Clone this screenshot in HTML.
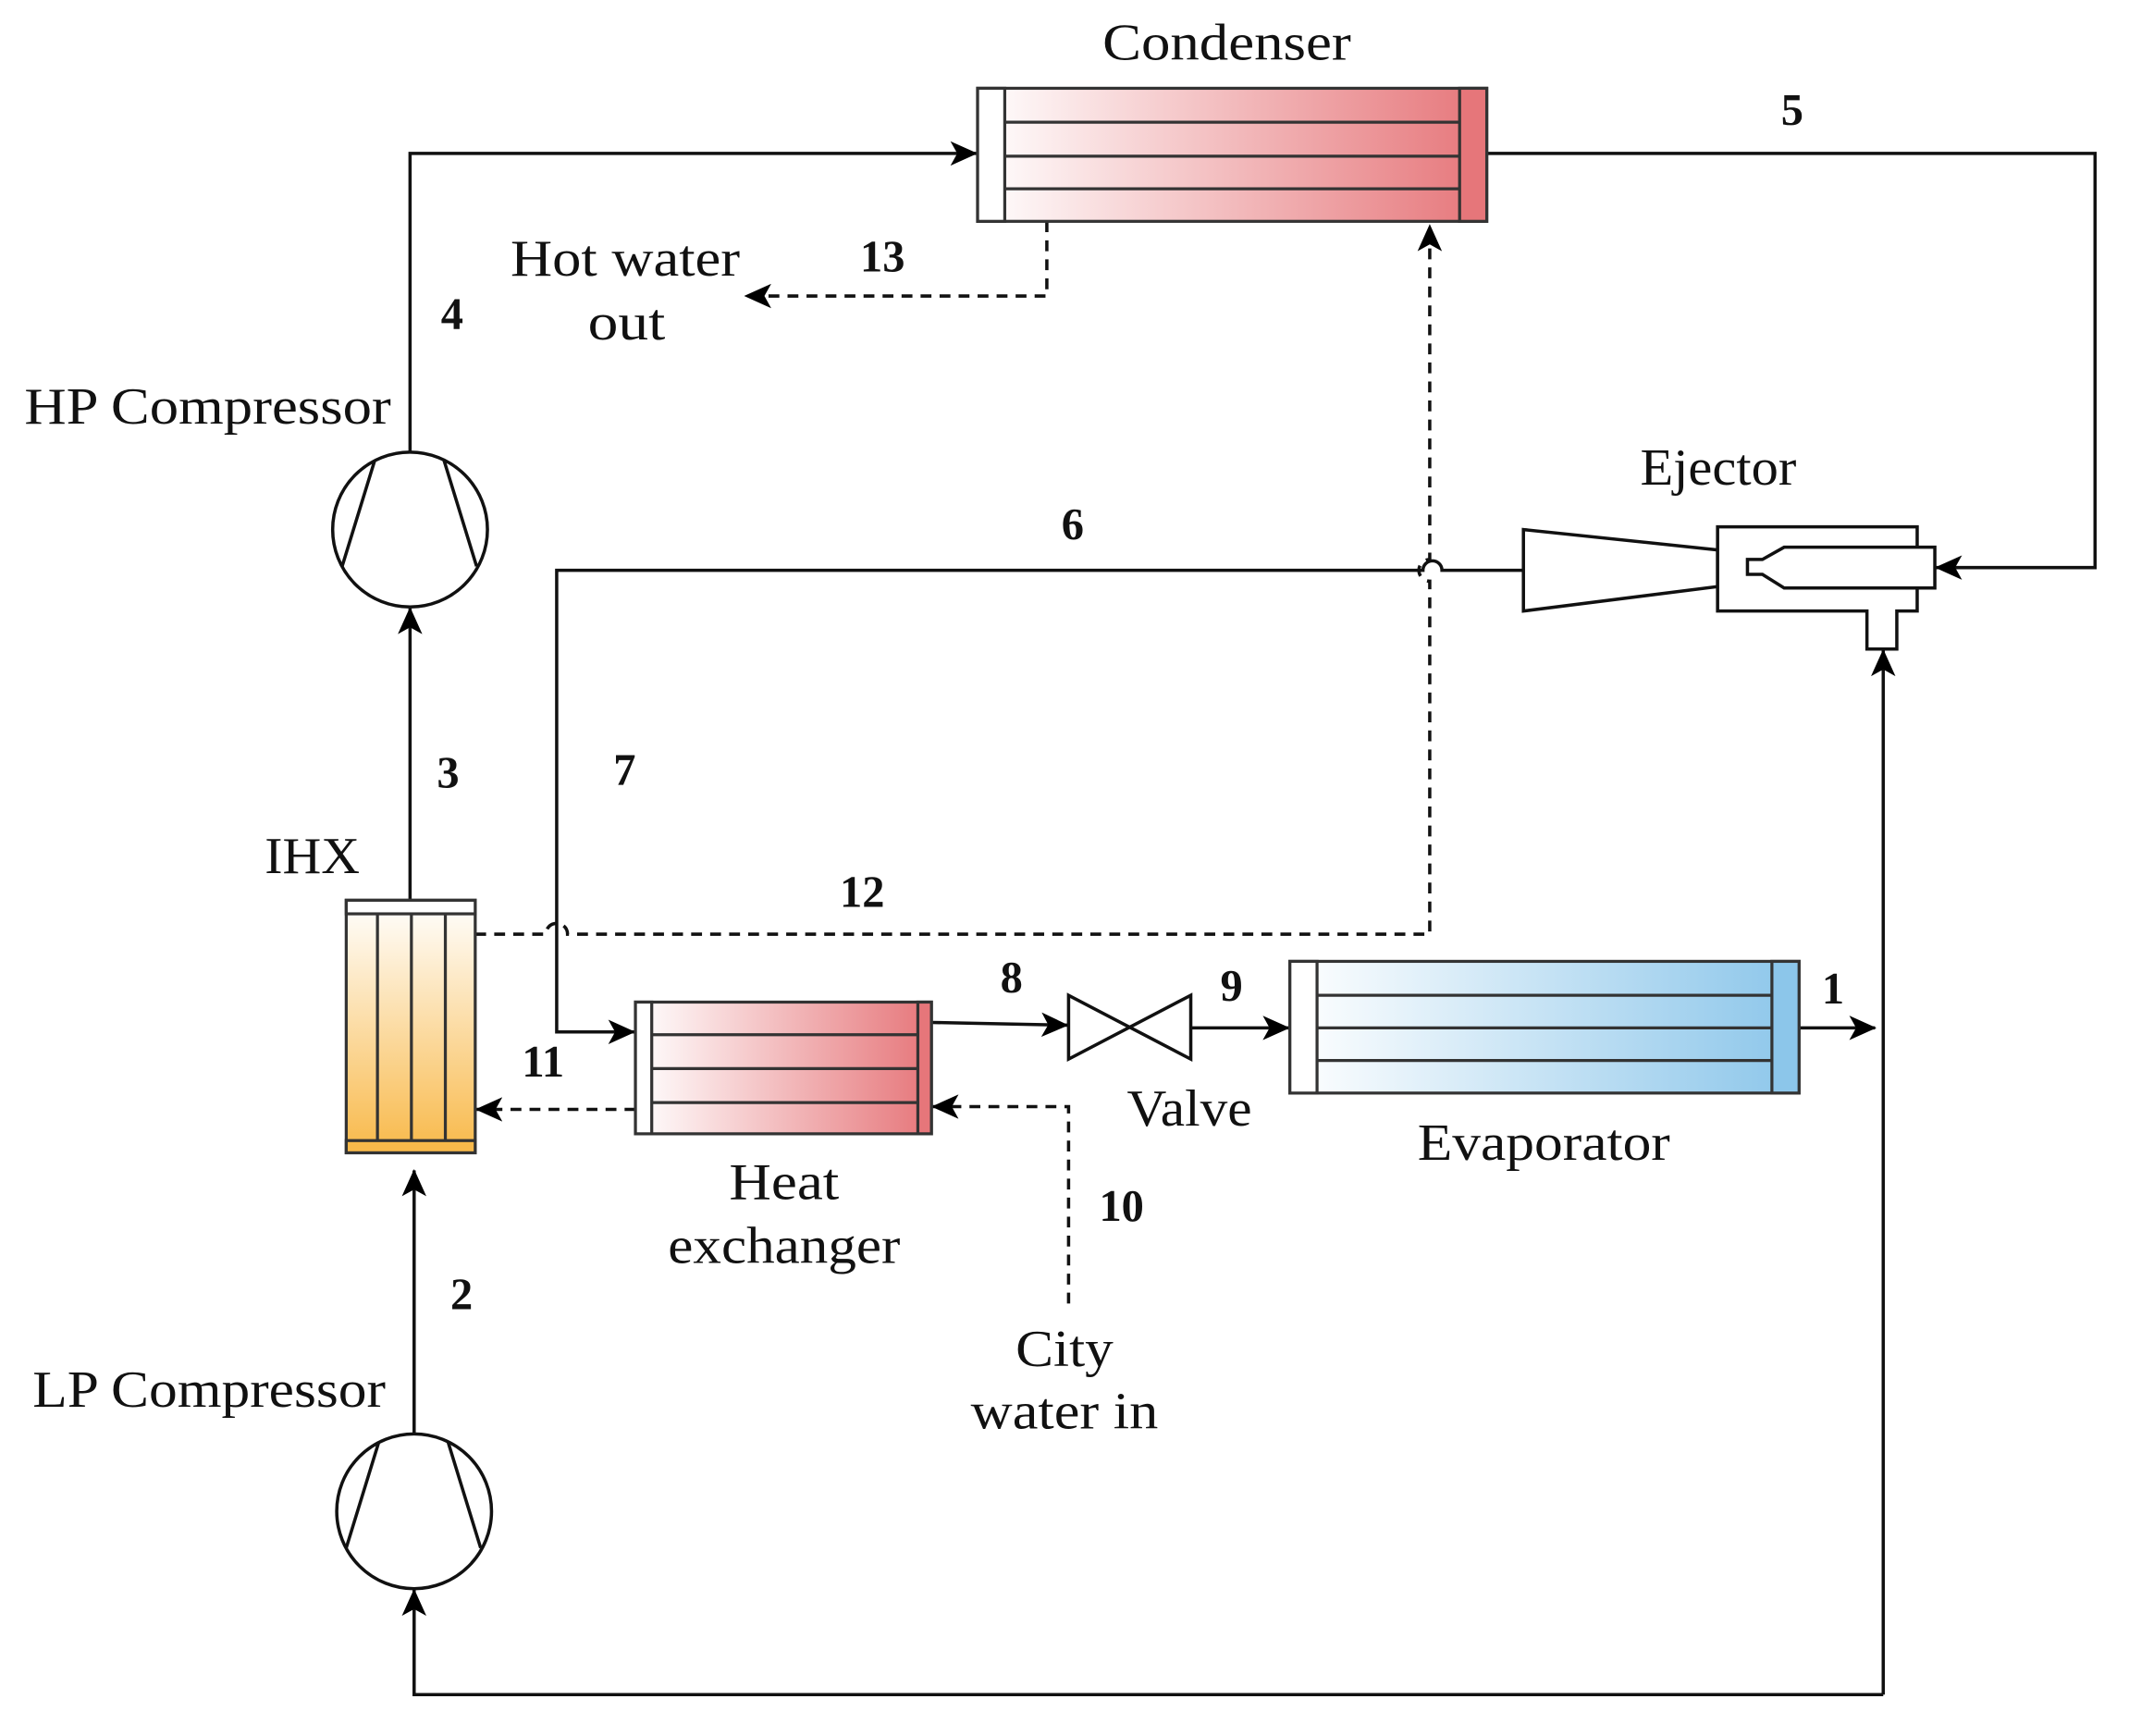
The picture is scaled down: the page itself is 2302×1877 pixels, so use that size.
<!DOCTYPE html>
<html><head><meta charset="utf-8"><style>
html,body{margin:0;padding:0;background:#fff}
svg{display:block}
text{font-family:"Liberation Serif","DejaVu Serif",serif;fill:#111}
.l{font-size:38px}
.n{font-size:33px;font-weight:bold}
</style></head><body>
<svg width="2302" height="1877" viewBox="0 0 1568 1278.5" xmlns="http://www.w3.org/2000/svg">
<defs>
<linearGradient id="red" x1="0" x2="1" y1="0" y2="0"><stop offset="0" stop-color="#fff"/><stop offset="1" stop-color="#e6767a"/></linearGradient>
<linearGradient id="blue" x1="0" x2="1" y1="0" y2="0"><stop offset="0" stop-color="#fff"/><stop offset="1" stop-color="#8cc6ea"/></linearGradient>
<linearGradient id="org" x1="0" x2="0" y1="0" y2="1"><stop offset="0" stop-color="#fff"/><stop offset="1" stop-color="#f8b94a"/></linearGradient>
<marker id="a" markerWidth="20" markerHeight="18" refX="19" refY="9" orient="auto" markerUnits="userSpaceOnUse" viewBox="0 0 20 18"><path d="M0,0 L20,9 L0,18 L5,9 Z" fill="#000"/></marker>
</defs>
<g fill="none" stroke="#111" stroke-width="2.4">
<path d="M302,333 V113 H719" marker-end="url(#a)"/>
<path d="M1095,113 H1543 V418 H1426" marker-end="url(#a)"/>
<path d="M1122,420 H1062 A7,7 0 0 0 1048,420 H410 V760 H467" marker-end="url(#a)"/>
<path d="M302,663 V448" marker-end="url(#a)"/>
<path d="M686,753 L786,755" marker-end="url(#a)"/>
<path d="M877,757 H949" marker-end="url(#a)"/>
<path d="M1325,757 H1381" marker-end="url(#a)"/>
<path d="M305,1057 V862" marker-end="url(#a)"/>
<path d="M1387,1248 H305 V1171" marker-end="url(#a)"/>
<path d="M1387,1248 V479" marker-end="url(#a)"/>
<g stroke-dasharray="8,6">
<path d="M771,163 V218 H549" marker-end="url(#a)"/>
<path d="M350,688 H402 A8,8 0 0 1 418,688 H1053 V428 A7,7 0 0 1 1053,412 V166" marker-end="url(#a)"/>
<path d="M468,817 H351" marker-end="url(#a)"/>
<path d="M787,960 V815 H687" marker-end="url(#a)"/>
</g>
</g>
<g stroke="#333" stroke-width="2.2">
<rect x="720" y="65" width="375" height="98" fill="url(#red)"/>
<rect x="720" y="65" width="20" height="98" fill="#fff"/>
<rect x="1075" y="65" width="20" height="98" fill="#e6767a"/>
<path d="M740,90 H1075 M740,115 H1075 M740,139 H1075"/>
</g>
<g stroke="#333" stroke-width="2.2">
<rect x="468" y="738" width="218" height="97" fill="url(#red)"/>
<rect x="468" y="738" width="12" height="97" fill="#fff"/>
<rect x="676" y="738" width="10" height="97" fill="#e6767a"/>
<path d="M480,762 H676 M480,787 H676 M480,812 H676"/>
</g>
<g stroke="#333" stroke-width="2.2">
<rect x="950" y="708" width="375" height="97" fill="url(#blue)"/>
<rect x="950" y="708" width="20" height="97" fill="#fff"/>
<rect x="1305" y="708" width="20" height="97" fill="#8cc6ea"/>
<path d="M970,733 H1305 M970,757 H1305 M970,781 H1305"/>
</g>
<g stroke="#333" stroke-width="2.2">
<rect x="255" y="663" width="95" height="186" fill="url(#org)"/>
<rect x="255" y="663" width="95" height="10" fill="#fff"/>
<rect x="255" y="840" width="95" height="9" fill="#f8b94a"/>
<path d="M278,673 V840 M303,673 V840 M328,673 V840"/>
</g>
<g fill="#fff" stroke="#111" stroke-width="2.4">
<circle cx="302" cy="390" r="57"/>
<path d="M276,339 L252,417 M327,339 L351,417" fill="none"/>
<circle cx="305" cy="1113" r="57"/>
<path d="M279,1062 L255,1140 M330,1062 L354,1140" fill="none"/>
</g>
<path d="M787,733 L877,780 L877,733 L787,780 Z" fill="#fff" stroke="#111" stroke-width="2.4"/>
<g fill="#fff" stroke="#111" stroke-width="2.4">
<path d="M1122,390 L1265,405 L1265,432 L1122,450 Z"/>
<path d="M1265,388 H1412 V450 H1397 V478 H1375 V450 H1265 Z"/>
<path d="M1425,403 V433 H1314 L1298,423 H1287 V412 H1298 L1314,403 Z"/>
</g>
<g lengthAdjust="spacingAndGlyphs">
<text class="l" x="812" y="44" textLength="183" lengthAdjust="spacingAndGlyphs">Condenser</text>
<text class="l" x="376" y="203" textLength="169" lengthAdjust="spacingAndGlyphs">Hot water</text>
<text class="l" x="433" y="250" textLength="57" lengthAdjust="spacingAndGlyphs">out</text>
<text class="l" x="18" y="312" textLength="270" lengthAdjust="spacingAndGlyphs">HP Compressor</text>
<text class="l" x="1208" y="357" textLength="115" lengthAdjust="spacingAndGlyphs">Ejector</text>
<text class="l" x="195" y="643" textLength="70" lengthAdjust="spacingAndGlyphs">IHX</text>
<text class="l" x="830" y="829" textLength="92" lengthAdjust="spacingAndGlyphs">Valve</text>
<text class="l" x="1044" y="854" textLength="186" lengthAdjust="spacingAndGlyphs">Evaporator</text>
<text class="l" x="537" y="883" textLength="81" lengthAdjust="spacingAndGlyphs">Heat</text>
<text class="l" x="492" y="930" textLength="171" lengthAdjust="spacingAndGlyphs">exchanger</text>
<text class="l" x="748" y="1006" textLength="72" lengthAdjust="spacingAndGlyphs">City</text>
<text class="l" x="715" y="1052" textLength="138" lengthAdjust="spacingAndGlyphs">water in</text>
<text class="l" x="24" y="1036" textLength="260" lengthAdjust="spacingAndGlyphs">LP Compressor</text>
</g>
<text class="n" x="1320" y="92" text-anchor="middle">5</text>
<text class="n" x="650" y="200" text-anchor="middle">13</text>
<text class="n" x="333" y="242" text-anchor="middle">4</text>
<text class="n" x="790" y="397" text-anchor="middle">6</text>
<text class="n" x="330" y="580" text-anchor="middle">3</text>
<text class="n" x="460" y="578" text-anchor="middle">7</text>
<text class="n" x="635" y="668" text-anchor="middle">12</text>
<text class="n" x="745" y="731" text-anchor="middle">8</text>
<text class="n" x="907" y="737" text-anchor="middle">9</text>
<text class="n" x="1350" y="739" text-anchor="middle">1</text>
<text class="n" x="400" y="793" text-anchor="middle">11</text>
<text class="n" x="826" y="899" text-anchor="middle">10</text>
<text class="n" x="340" y="964" text-anchor="middle">2</text>
</svg>
</body></html>
